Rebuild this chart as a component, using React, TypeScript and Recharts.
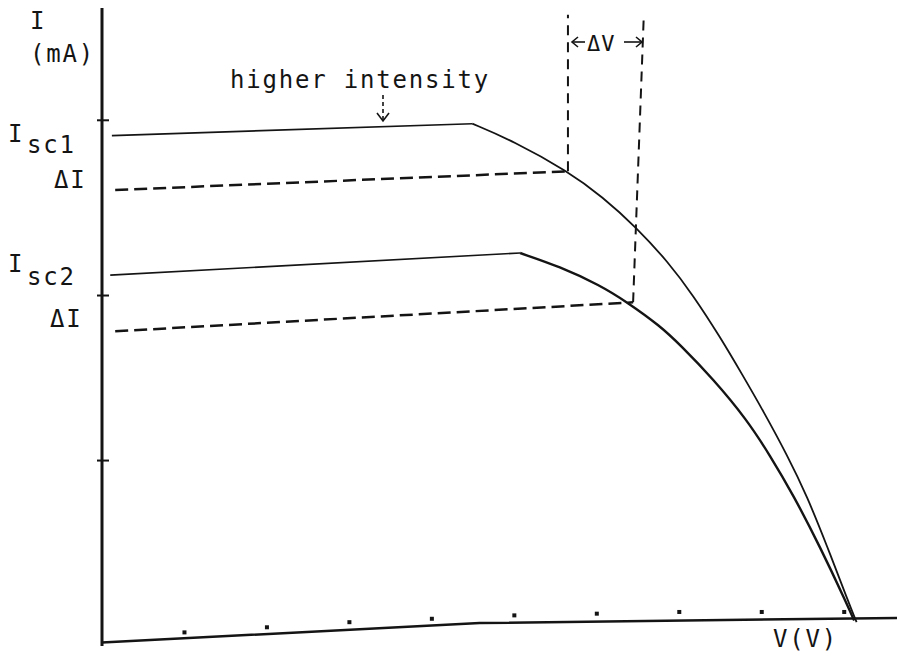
import { ComposedChart, Line, Scatter, XAxis, YAxis } from 'recharts';

// Curve 1 (higher intensity): flat part up to the knee, then the drop to Voc
const C1_FLAT_V = [0.12, 4.49];
const C1_FLAT_I = [2.9, 2.97];
const C1_DROP_V = [4.49, 4.98, 5.65, 6.07, 6.48, 6.86, 7.17, 7.49, 7.77, 8.02, 8.31, 8.55, 8.79, 9.05, 9.15];
const C1_DROP_I = [2.97, 2.87, 2.69, 2.54, 2.36, 2.16, 1.96, 1.72, 1.49, 1.28, 1.02, 0.78, 0.49, 0.16, 0.04];

// Curve 2 (lower intensity)
const C2_FLAT_V = [0.1, 5.07];
const C2_FLAT_I = [2.08, 2.21];
const C2_DROP_V = [5.07, 5.55, 6.04, 6.37, 6.77, 7.01, 7.41, 7.82, 8.1, 8.38, 8.71, 9.03, 9.12];
const C2_DROP_I = [2.21, 2.13, 2.02, 1.92, 1.78, 1.67, 1.47, 1.23, 1.02, 0.79, 0.48, 0.15, 0.05];

// Delta-I guide lines and the delta-V verticals
const DI1_V = [0.16, 5.65];
const DI1_I = [2.58, 2.69];
const DI2_V = [0.16, 6.44];
const DI2_I = [1.75, 1.92];
const DV1_V = [5.65, 5.65];
const DV1_I = [2.69, 3.61];
const DV2_V = [6.44, 6.57];
const DV2_I = [1.92, 3.61];

// Hand-drawn voltage axis and its tick dots
const AXIS_V = [0, 4.58, 9.64];
const AXIS_I = [-0.08, 0.035, 0.065];
const DOT_V = [1, 2, 3, 4, 5, 6, 7, 8, 9];
const DOT_I = [-0.02, 0.01, 0.04, 0.06, 0.08, 0.09, 0.1, 0.1, 0.1];

const Y_TICKS = [0.99, 1.96, 2.99];

const zip = (vs: number[], is: number[]) => vs.map((v, i) => ({ v, i: is[i] }));

const INK = '#141414';
const FONT = '"DejaVu Sans Mono", monospace';

const AxisTick = ({ x, y }: any) => (
  <line x1={x - 5} x2={x + 7} y1={y} y2={y} stroke={INK} strokeWidth={2} />
);

const TickDot = ({ cx, cy }: any) => (
  <rect x={cx - 2} y={cy - 2} width={4} height={4} fill={INK} />
);

export default function App() {
  const txt = { fontFamily: FONT, fontSize: 24, fill: INK, letterSpacing: 1.8 };
  return (
    <div style={{ position: 'absolute', left: 0, top: 0, width: 898, height: 654, background: '#fff' }}>
      <ComposedChart width={898} height={654} margin={{ top: 8, right: 1, bottom: 8, left: 2 }}>
        <XAxis type="number" dataKey="v" domain={[0, 9.64]} hide />
        <YAxis
          type="number"
          domain={[-0.1, 3.65]}
          width={100}
          ticks={Y_TICKS}
          tick={<AxisTick />}
          tickLine={false}
          tickSize={0}
          tickMargin={0}
          axisLine={{ stroke: INK, strokeWidth: 3 }}
          allowDataOverflow
        />
        <Line data={zip(AXIS_V, AXIS_I)} dataKey="i" type="linear" stroke={INK} strokeWidth={2.5} dot={false} isAnimationActive={false} />
        <Scatter data={zip(DOT_V, DOT_I)} dataKey="i" shape={<TickDot />} isAnimationActive={false} />

        <Line data={zip(C1_FLAT_V, C1_FLAT_I)} dataKey="i" type="linear" stroke={INK} strokeWidth={1.6} dot={false} isAnimationActive={false} />
        <Line data={zip(C1_DROP_V, C1_DROP_I)} dataKey="i" type="basis" stroke={INK} strokeWidth={1.8} dot={false} isAnimationActive={false} />
        <Line data={zip(C2_FLAT_V, C2_FLAT_I)} dataKey="i" type="linear" stroke={INK} strokeWidth={1.6} dot={false} isAnimationActive={false} />
        <Line data={zip(C2_DROP_V, C2_DROP_I)} dataKey="i" type="basis" stroke={INK} strokeWidth={2.4} dot={false} isAnimationActive={false} />

        <Line data={zip(DI1_V, DI1_I)} dataKey="i" type="linear" stroke={INK} strokeWidth={2.5} strokeDasharray="13 6" dot={false} isAnimationActive={false} />
        <Line data={zip(DI2_V, DI2_I)} dataKey="i" type="linear" stroke={INK} strokeWidth={2.5} strokeDasharray="13 6" dot={false} isAnimationActive={false} />
        <Line data={zip(DV1_V, DV1_I)} dataKey="i" type="linear" stroke={INK} strokeWidth={2} strokeDasharray="10 7" dot={false} isAnimationActive={false} />
        <Line data={zip(DV2_V, DV2_I)} dataKey="i" type="linear" stroke={INK} strokeWidth={2} strokeDasharray="10 7" dot={false} isAnimationActive={false} />
      </ComposedChart>

      {/* labels and annotation arrows */}
      <svg width={898} height={654} style={{ position: 'absolute', left: 0, top: 0, pointerEvents: 'none' }}>
        <text x={30} y={29} {...txt}>I</text>
        <text x={30} y={62} {...txt}>(mA)</text>

        <text x={8} y={142} {...txt}>I</text>
        <text x={27} y={153} {...txt}>sc1</text>
        <text x={54} y={188} {...txt}>ΔI</text>

        <text x={8} y={272} {...txt}>I</text>
        <text x={27} y={285} {...txt}>sc2</text>
        <text x={50} y={327} {...txt}>ΔI</text>

        <text x={230} y={88} {...txt}>higher intensity</text>
        <line x1={383} y1={95} x2={383} y2={120} stroke={INK} strokeWidth={1.6} strokeDasharray="4 3" />
        <polyline points="377,113 383,121 389,113" fill="none" stroke={INK} strokeWidth={1.6} />

        <text x={587} y={51} {...txt} fontSize={22} letterSpacing={1}>ΔV</text>
        <line x1={572} y1={42} x2={585} y2={42} stroke={INK} strokeWidth={1.6} />
        <polyline points="578,37 572,42 578,47" fill="none" stroke={INK} strokeWidth={1.6} />
        <line x1={624} y1={42} x2={642} y2={42} stroke={INK} strokeWidth={1.6} />
        <polyline points="636,37 642,42 636,47" fill="none" stroke={INK} strokeWidth={1.6} />

        <text x={773} y={647} {...txt}>V(V)</text>
      </svg>
    </div>
  );
}
